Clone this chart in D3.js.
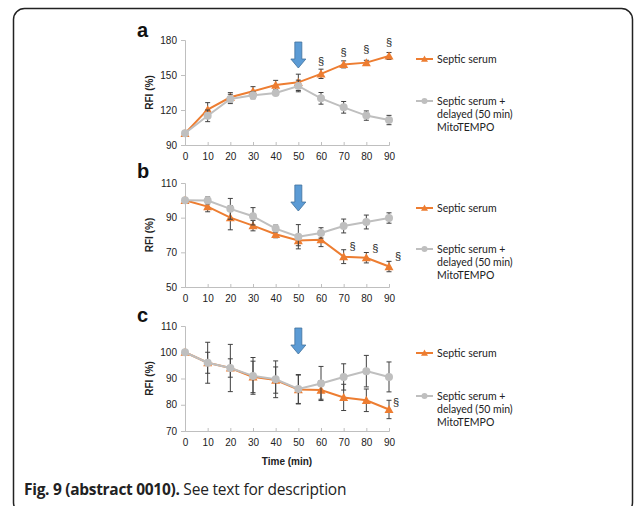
<!DOCTYPE html>
<html><head><meta charset="utf-8">
<script src="https://cdn.jsdelivr.net/npm/d3@7"></script>
<style>body{margin:0;background:#fff}svg{display:block}</style>
</head><body>
<script>
const times = [0,10,20,30,40,50,60,70,80,90];
const xTicks = [0,10,20,30,40,50,60,70,80,90];
const seriesNames = ["Septic serum", "Septic serum + delayed (50 min) MitoTEMPO"];
const panelLabels = ["a","b","c"];
const yTicksA = [90,120,150,180];
const yTicksB = [50,70,90,110];
const yTicksC = [70,80,90,100,110];
// Panel a
const septicA = [100,120.3,130.9,136,141.4,143.7,151,159.1,160.6,166.3];
const septicErrA = [0,6,4,4,4,7,4,3,2,3];
const mitoA = [100,115,129.5,132.6,134.6,140.6,130,122.3,115.2,111.4];
const mitoErrA = [0,5,4,3,2,5,5,5,4,4];
const sectionA = [60,70,80,90];
// Panel b
const septicB = [100,96.4,90,85.4,80.4,76.8,77.3,67.5,66.9,61.8];
const septicErrB = [0,3,7,3,2,3,4,4,3,3];
const mitoB = [100,99.9,95.1,90.8,83.7,79,81.2,85.2,87.5,89.8];
const mitoErrB = [0,2,6,5,2,7,3,4,4,3];
const sectionB = [70,80,90];
// Panel c
const septicC = [100,96,94,90.6,89.4,85.8,85.6,82.8,81.7,78.2];
const septicErrC = [0,4,3.5,6,5,5.5,3.5,5,4.3,3.5];
const mitoC = [100,96,94,91,89.7,86,88.1,90.6,92.8,90.6];
const mitoErrC = [0,7.8,9,7,7,5.5,6.5,5,6,5.7];
const sectionC = [90];

const W=637,H=506;
const svg=d3.select("body").append("svg").attr("width",W).attr("height",H);
svg.append("rect").attr("x",13.5).attr("y",8.5).attr("width",619).attr("height",505)
  .attr("rx",11).attr("fill","none").attr("stroke","#222").attr("stroke-width",1.5);

const x=d3.scaleLinear().domain([0,90]).range([185,389]);
const ORANGE="#ED7D31", GRAY="#BFBFBF", AXIS="#BFBFBF", EB="#404040";
const tickFont="Arial, 'Liberation Sans', sans-serif";
const legFont="Lato, 'Open Sans', sans-serif";

const panels=[
 {label:panelLabels[0],labelY:37,dom:[90,180],rng:[145,40],ticks:yTicksA,s:septicA,se:septicErrA,m:mitoA,me:mitoErrA,sec:sectionA,secY:[162,169.7,172,178],secDx:0,legO:59,legG:101},
 {label:panelLabels[1],labelY:178,dom:[50,110],rng:[287,183],ticks:yTicksB,s:septicB,se:septicErrB,m:mitoB,me:mitoErrB,sec:sectionB,secY:[73.6,72.7,68],secDx:9,legO:208,legG:249},
 {label:panelLabels[2],labelY:322,dom:[70,110],rng:[431,326],ticks:yTicksC,s:septicC,se:septicErrC,m:mitoC,me:mitoErrC,sec:sectionC,secY:[81],secDx:7,legO:353,legG:396}
];

function tri(g,cx,cy,s){g.append("path").attr("d",`M${cx},${cy-s} L${cx+s},${cy+s*0.8} L${cx-s},${cy+s*0.8} Z`).attr("fill",ORANGE);}

panels.forEach(p=>{
  const y=d3.scaleLinear().domain(p.dom).range(p.rng);
  const g=svg.append("g");
  const ya=g.append("g").attr("transform",`translate(${x(0)},0)`).call(d3.axisLeft(y).tickValues(p.ticks).tickSize(4).tickPadding(4));
  const xa=g.append("g").attr("transform",`translate(0,${y(p.dom[0])})`).call(d3.axisBottom(x).tickValues(xTicks).tickSize(-3).tickPadding(8));
  [ya,xa].forEach(a=>{a.select(".domain").attr("stroke",AXIS);a.selectAll(".tick line").attr("stroke",AXIS);
    a.selectAll("text").attr("font-family",tickFont).attr("font-size",10).attr("fill","#222");});
  g.append("text").attr("x",137).attr("y",p.labelY).text(p.label).attr("font-family",tickFont).attr("font-weight","bold").attr("font-size",20).attr("fill","#111");
  g.append("text").attr("transform",`translate(153,${(p.rng[0]+p.rng[1])/2}) rotate(-90)`).attr("text-anchor","middle")
    .text("RFI (%)").attr("font-family",tickFont).attr("font-size",10).attr("font-weight","bold").attr("fill","#222");
  const line=d3.line().x((d,i)=>x(times[i])).y(d=>y(d));
  function errs(vals,err){
    vals.forEach((v,i)=>{ if(!err[i]) return;
      const cx=x(times[i]), y1=y(v+err[i]), y2=y(v-err[i]);
      g.append("line").attr("x1",cx).attr("x2",cx).attr("y1",y1).attr("y2",y2).attr("stroke",EB).attr("stroke-width",1);
      [y1,y2].forEach(yy=>g.append("line").attr("x1",cx-2.5).attr("x2",cx+2.5).attr("y1",yy).attr("y2",yy).attr("stroke",EB).attr("stroke-width",1));
    });
  }
  g.append("path").datum(p.s).attr("d",line).attr("fill","none").attr("stroke",ORANGE).attr("stroke-width",2);
  errs(p.s,p.se);
  p.s.forEach((v,i)=>tri(g,x(times[i]),y(v),4.5));
  g.append("path").datum(p.m).attr("d",line).attr("fill","none").attr("stroke",GRAY).attr("stroke-width",2);
  errs(p.m,p.me);
  p.m.forEach((v,i)=>g.append("circle").attr("cx",x(times[i])).attr("cy",y(v)).attr("r",4).attr("fill",GRAY));
  p.sec.forEach((t,i)=>g.append("text").attr("x",x(t)+p.secDx).attr("y",y(p.secY[i])+4).attr("text-anchor","middle")
    .text("§").attr("font-family",tickFont).attr("font-size",11).attr("fill","#222"));
  const ax=x(50), top=p.rng[1]+2, bot=top+26;
  g.append("path").attr("d",`M${ax-3.5},${top} L${ax+3.5},${top} L${ax+3.5},${bot-9} L${ax+7.5},${bot-9} L${ax},${bot} L${ax-7.5},${bot-9} L${ax-3.5},${bot-9} Z`)
    .attr("fill","#5B9BD5").attr("stroke","#41719C").attr("stroke-width",0.8);
  const lx=416;
  g.append("line").attr("x1",lx).attr("x2",lx+17).attr("y1",p.legO).attr("y2",p.legO).attr("stroke",ORANGE).attr("stroke-width",2);
  tri(g,lx+8.5,p.legO,3.5);
  g.append("text").attr("x",lx+21).attr("y",p.legO+4).text(seriesNames[0]).attr("font-family",legFont).attr("font-size",10.5).attr("fill","#222");
  g.append("line").attr("x1",lx).attr("x2",lx+17).attr("y1",p.legG).attr("y2",p.legG).attr("stroke",GRAY).attr("stroke-width",2);
  g.append("circle").attr("cx",lx+8.5).attr("cy",p.legG).attr("r",3).attr("fill",GRAY);
  const lines=["Septic serum +","delayed (50 min)","MitoTEMPO"];
  lines.forEach((t,i)=>g.append("text").attr("x",lx+21).attr("y",p.legG+4+i*13).text(t).attr("font-family",legFont).attr("font-size",10.5).attr("fill","#222"));
});
svg.append("text").attr("x",x(45)).attr("y",465).attr("text-anchor","middle").text("Time (min)")
  .attr("font-family",tickFont).attr("font-size",10).attr("font-weight","bold").attr("fill","#222");
const cap=svg.append("text").attr("x",24).attr("y",495).attr("font-family","'Open Sans', 'Noto Sans', sans-serif").attr("font-size",15.5).attr("fill","#222");
cap.append("tspan").attr("font-weight","bold").attr("letter-spacing",-0.3).text("Fig. 9 (abstract 0010).");
cap.append("tspan").attr("letter-spacing",-0.2).text(" See text for description");
</script>
</body></html>
